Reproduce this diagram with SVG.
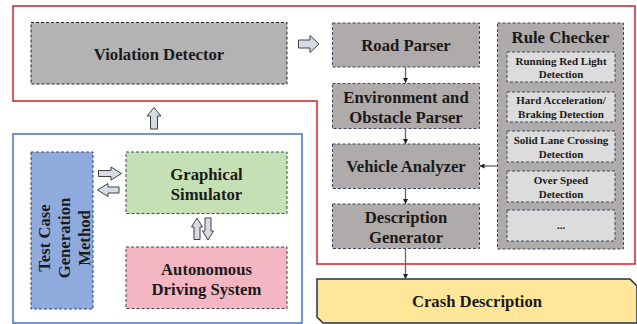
<svg xmlns="http://www.w3.org/2000/svg" width="637" height="324" viewBox="0 0 637 324">
<defs>
<style>
.t{font-family:"Liberation Serif","Times New Roman",serif;font-weight:bold;fill:#1a1a1a;text-anchor:middle}
.big{font-size:16.7px}
.sm{font-size:11px}
.box{stroke:#3b4763;stroke-width:1;stroke-dasharray:3,2}
.grey{fill:#afabab}
.inner{fill:#dcdcdc}
.blk{fill:#d6dce5;stroke:#404040;stroke-width:1;stroke-linejoin:miter}
.conn{stroke:#666;stroke-width:1.3;fill:none}
</style>
<marker id="ah" viewBox="0 0 6 6" refX="6" refY="3" markerWidth="5" markerHeight="5" orient="auto" markerUnits="userSpaceOnUse">
<path d="M0,0 L6,3 L0,6 z" fill="#222"/>
</marker>
</defs>
<rect width="637" height="324" fill="#fff"/>

<g id="frame-red">
<path d="M13,6 H635 V264 H317 V101 H13 Z" fill="none" stroke="#d21f26" stroke-width="1.5"/>
</g>
<g id="frame-blue">
<rect x="13" y="134" width="289" height="189" fill="none" stroke="#4472c4" stroke-width="1.5"/>
</g>

<g id="violation-detector">
<rect class="box grey" x="31" y="22.5" width="256" height="61.5" style="fill:#b3b3b3;stroke:#222"/>
<text class="t big" x="159" y="60">Violation Detector</text>
</g>

<g id="road-parser">
<rect class="box grey" x="332.5" y="23" width="147" height="44"/>
<text class="t big" x="406" y="51">Road Parser</text>
</g>
<g id="env-parser">
<rect class="box grey" x="332.5" y="83.5" width="147" height="45"/>
<text class="t big" x="406" y="103">Environment and</text>
<text class="t big" x="406" y="123">Obstacle Parser</text>
</g>
<g id="vehicle-analyzer">
<rect class="box grey" x="332.5" y="144" width="147" height="44.5"/>
<text class="t big" x="406" y="172">Vehicle Analyzer</text>
</g>
<g id="description-generator">
<rect class="box grey" x="332.5" y="204" width="147" height="44.5"/>
<text class="t big" x="406" y="223">Description</text>
<text class="t big" x="406" y="243">Generator</text>
</g>

<g id="rule-checker">
<rect class="box grey" x="497.5" y="23" width="126" height="226"/>
<text class="t big" x="560.5" y="42.5">Rule Checker</text>
</g>
<g id="red-light">
<rect class="box inner" x="507" y="52" width="108" height="30"/>
<text class="t sm" x="561" y="64.5">Running Red Light</text>
<text class="t sm" x="561" y="78">Detection</text>
</g>
<g id="hard-accel">
<rect class="box inner" x="507" y="92" width="108" height="30"/>
<text class="t sm" x="561" y="104">Hard Acceleration/</text>
<text class="t sm" x="561" y="118">Braking Detection</text>
</g>
<g id="solid-lane">
<rect class="box inner" x="507" y="131" width="108" height="31"/>
<text class="t sm" x="561" y="144">Solid Lane Crossing</text>
<text class="t sm" x="561" y="158">Detection</text>
</g>
<g id="over-speed">
<rect class="box inner" x="507" y="171" width="108" height="31"/>
<text class="t sm" x="561" y="184">Over Speed</text>
<text class="t sm" x="561" y="198">Detection</text>
</g>
<g id="more">
<rect class="box inner" x="507" y="210" width="108" height="31"/>
<text class="t sm" x="561" y="229">...</text>
</g>

<g id="crash-description">
<path d="M317,279 H630 L637,286 V323 H323 L317,317 Z" fill="#ffe699" stroke="#1f3050" stroke-width="1.5"/>
<text class="t big" x="477" y="307">Crash Description</text>
</g>

<g id="test-case">
<rect class="box" x="31" y="152" width="62" height="157" fill="#8faadc"/>
<g transform="translate(0,238)">
<text class="t big" transform="translate(49.5,0) rotate(-90)" x="0" y="0">Test Case</text>
<text class="t big" transform="translate(69.5,0) rotate(-90)" x="0" y="0">Generation</text>
<text class="t big" transform="translate(89.5,0) rotate(-90)" x="0" y="0">Method</text>
</g>
</g>
<g id="graphical-simulator">
<rect class="box" x="126" y="152" width="161" height="61.5" fill="#c5e0b4"/>
<text class="t big" x="206.5" y="180">Graphical</text>
<text class="t big" x="206.5" y="199.5">Simulator</text>
</g>
<g id="ads">
<rect class="box" x="126" y="247" width="161" height="61.5" fill="#f4b6c2"/>
<text class="t big" x="206.5" y="275">Autonomous</text>
<text class="t big" x="206.5" y="295">Driving System</text>
</g>

<g id="connectors">
<line class="conn" x1="405.5" y1="67" x2="405.5" y2="83" marker-end="url(#ah)"/>
<line class="conn" x1="405.5" y1="128.5" x2="405.5" y2="144" marker-end="url(#ah)"/>
<line class="conn" x1="405.5" y1="188.5" x2="405.5" y2="204" marker-end="url(#ah)"/>
<line class="conn" x1="405.5" y1="248.5" x2="405.5" y2="279" marker-end="url(#ah)"/>
<line class="conn" x1="497.5" y1="166" x2="479.5" y2="166" marker-end="url(#ah)"/>
<path class="blk" d="M298.5,40 H310 V35.5 L319,44 L310,52.5 V48 H298.5 Z"/>
<path class="blk" d="M154,107.5 L161,116 H157.5 V129 H150.5 V116 H147 Z"/>
<path class="blk" d="M98.5,170.5 H111 V167 L121.5,173.5 L111,180 V176.5 H98.5 Z"/>
<path class="blk" d="M119,187 H108 V183.5 L97.5,190 L108,196.5 V193 H119 Z"/>
<path class="blk" d="M197,218 L202.5,227 H200 V239.5 H194 V227 H191.5 Z"/>
<path class="blk" d="M205,218 H211 V231 H213.5 L208,240 L202.5,231 H205 Z"/>
</g>
</svg>
